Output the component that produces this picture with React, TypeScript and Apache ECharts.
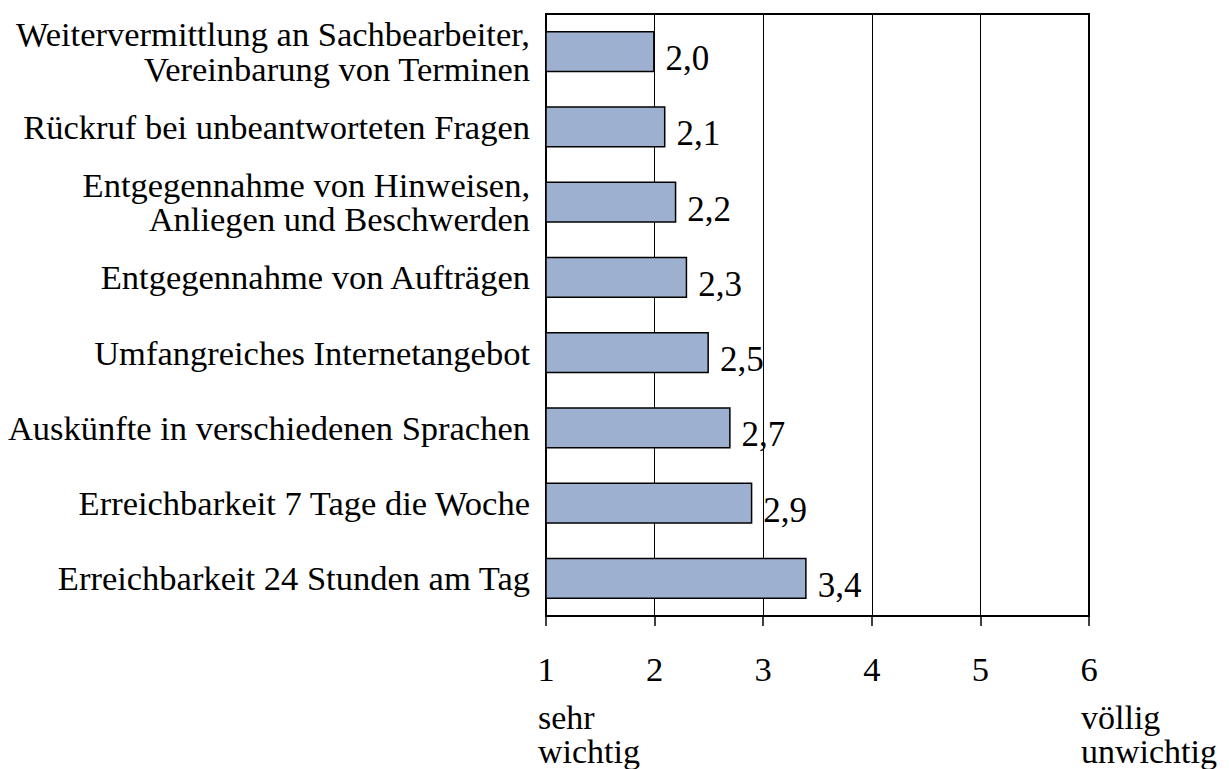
import React, { useEffect, useRef } from "react";
import * as echarts from "echarts";

const categories: string[] = [
  "Weitervermittlung an Sachbearbeiter,\nVereinbarung von Terminen",
  "Rückruf bei unbeantworteten Fragen",
  "Entgegennahme von Hinweisen,\nAnliegen und Beschwerden",
  "Entgegennahme von Aufträgen",
  "Umfangreiches Internetangebot",
  "Auskünfte in verschiedenen Sprachen",
  "Erreichbarkeit 7 Tage die Woche",
  "Erreichbarkeit 24 Stunden am Tag",
];
const values: number[] = [2.0, 2.1, 2.2, 2.3, 2.5, 2.7, 2.9, 3.4];
const axisMin = 1;
const axisMax = 6;
const axisInterval = 1;
const leftNote = "sehr\nwichtig";
const rightNote = "völlig\nunwichtig";

const FONT = "Liberation Serif";

export default function App() {
  const ref = useRef<HTMLDivElement>(null);
  useEffect(() => {
    if (!ref.current) return;
    const chart = echarts.init(ref.current, undefined, { renderer: "svg" });
    chart.setOption({
      animation: false,
      backgroundColor: "#ffffff",
      textStyle: { fontFamily: FONT },
      grid: {
        left: 546,
        right: 140,
        top: 14,
        bottom: 153,
        show: true,
        borderColor: "#000",
        borderWidth: 2,
        containLabel: false,
      },
      xAxis: {
        type: "value",
        min: axisMin,
        max: axisMax,
        interval: axisInterval,
        axisLine: { show: true, lineStyle: { color: "#000", width: 2 } },
        axisTick: { show: true, length: 10, lineStyle: { color: "#000", width: 1.5 } },
        axisLabel: {
          color: "#000",
          fontFamily: FONT,
          fontSize: 34.5,
          lineHeight: 34.5,
          margin: 36,
        },
        splitLine: { show: true, lineStyle: { color: "#000", width: 1 } },
      },
      yAxis: {
        type: "category",
        data: categories,
        inverse: true,
        axisLine: { show: true, lineStyle: { color: "#000", width: 2 } },
        axisTick: { show: false },
        axisLabel: {
          color: "#000",
          fontFamily: FONT,
          fontSize: 34.5,
          lineHeight: 34.5,
          margin: 16,
          align: "right",
        },
      },
      series: [
        {
          type: "bar",
          data: values,
          barWidth: "54.5%",
          clip: true,
          itemStyle: { color: "#9eb0cf", borderColor: "#000", borderWidth: 1.5 },
          label: {
            show: true,
            position: "right",
            distance: 11,
            offset: [0, 7],
            color: "#000",
            fontFamily: FONT,
            fontSize: 35,
            formatter: (p: any) => Number(p.value).toFixed(1).replace(".", ","),
          },
        },
      ],
      graphic: [
        {
          type: "text",
          left: 538,
          top: 700,
          style: {
            text: leftNote,
            fill: "#000",
            fontFamily: FONT,
            fontSize: 34,
            lineHeight: 34,
            textAlign: "left",
          },
        },
        {
          type: "text",
          left: 1081,
          top: 700,
          style: {
            text: rightNote,
            fill: "#000",
            fontFamily: FONT,
            fontSize: 34,
            lineHeight: 34,
            textAlign: "left",
          },
        },
      ],
    });
    return () => chart.dispose();
  }, []);
  return (
    <div
      ref={ref}
      style={{ position: "fixed", left: 0, top: 0, width: 1229, height: 769, background: "#fff" }}
    />
  );
}
